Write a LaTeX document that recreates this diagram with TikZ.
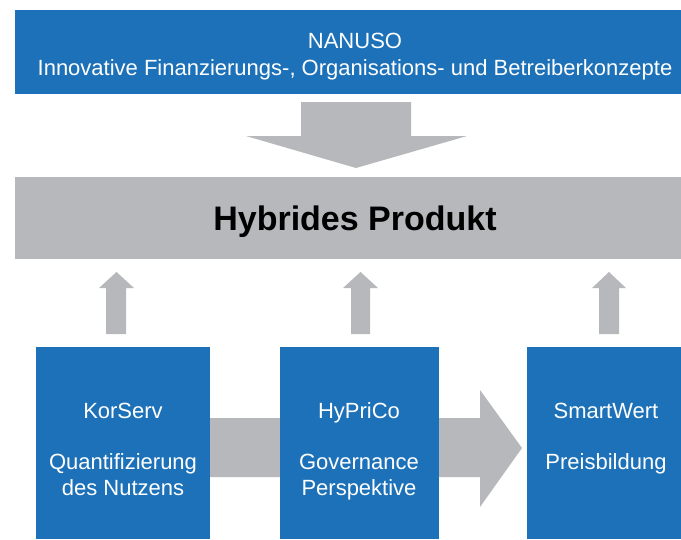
\documentclass[tikz,border=0pt]{standalone}
\usepackage{fontspec}
\setmainfont{Liberation Sans}
\definecolor{boxblue}{RGB}{29,113,184}
\definecolor{arrgray}{RGB}{182,184,187}
\begin{document}
\begin{tikzpicture}[x=1pt,y=-1pt,
  bluebox/.style={fill=boxblue,draw=none,anchor=north west,inner sep=0pt},
  graybox/.style={fill=arrgray,draw=none,anchor=north west,inner sep=0pt},
  wtext/.style={text=white,anchor=base,inner sep=0pt,font=\fontsize{22}{26}\selectfont},
  ttext/.style={text=white,anchor=base,inner sep=0pt,font=\fontsize{22}{26}\selectfont},
  arr/.style={fill=arrgray,draw=none}]
\useasboundingbox (0,0) rectangle (681,539);
% top box
\node[bluebox,minimum width=666pt,minimum height=84pt] (top) at (15,10) {};
\node[ttext] (nanuso) at (355,48) {NANUSO};
\node[ttext] (nanusoline) at (355,75) {Innovative Finanzierungs-, Organisations- und Betreiberkonzepte};
% down arrow
\fill[arr] (301,102) -- (411,102) -- (411,136) -- (467,136) -- (356,168) -- (246,136) -- (301,136) -- cycle;
% gray box
\node[graybox,minimum width=666pt,minimum height=82pt] (hp) at (15,177) {};
\node[anchor=base,inner sep=0pt,font=\fontsize{34}{40}\selectfont\bfseries] (hptext) at (355,230) {Hybrides Produkt};
% up arrows
\fill[arr] (106,334) -- (106,288) -- (99,288) -- (116.5,272) -- (134,288) -- (126,288) -- (126,334) -- cycle;
\fill[arr] (351,334) -- (351,288) -- (343,288) -- (360.5,272) -- (378,288) -- (370,288) -- (370,334) -- cycle;
\fill[arr] (599,334) -- (599,288) -- (592,288) -- (609,272) -- (626,288) -- (619,288) -- (619,334) -- cycle;
% horizontal arrow
\fill[arr] (205,418) -- (480,418) -- (480,390) -- (522,448) -- (480,507) -- (480,477) -- (205,477) -- cycle;
% bottom boxes
\node[bluebox,minimum width=174pt,minimum height=192pt] (kor) at (36,347) {};
\node[bluebox,minimum width=159pt,minimum height=192pt] (hyp) at (280,347) {};
\node[bluebox,minimum width=154pt,minimum height=192pt] (smart) at (527,347) {};
\node[wtext] (k1) at (123,418) {KorServ};
\node[wtext] (k2) at (123,469) {Quantifizierung};
\node[wtext] (k3) at (123,495) {des Nutzens};
\node[wtext] (h1) at (359,418) {HyPriCo};
\node[wtext] (h2) at (359,469) {Governance};
\node[wtext] (h3) at (359,495) {Perspektive};
\node[wtext] (s1) at (606,418) {SmartWert};
\node[wtext] (s2) at (606,469) {Preisbildung};
\end{tikzpicture}
\end{document}
